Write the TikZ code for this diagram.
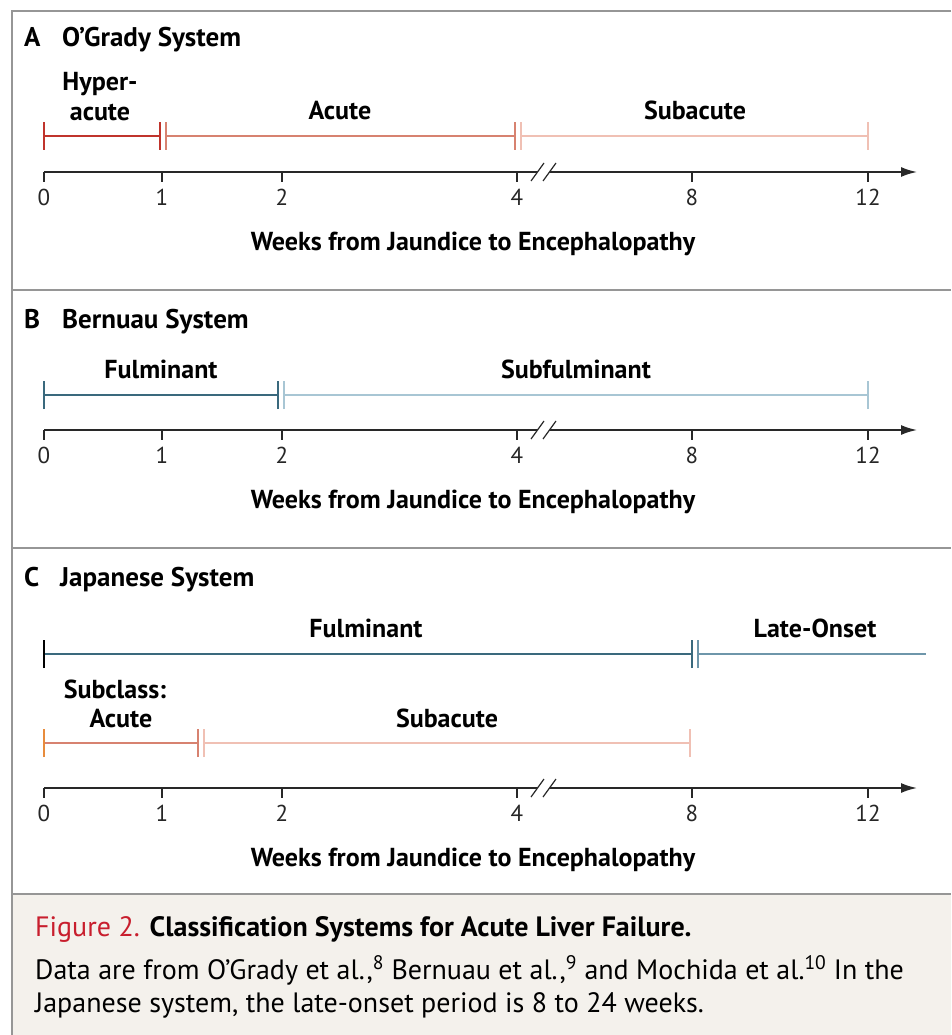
\documentclass[tikz,border=0pt]{standalone}
\usepackage{fontspec}
\setmainfont{PT Sans}
\usetikzlibrary{arrows.meta}
\definecolor{framegray}{RGB}{150,150,150}
\definecolor{capbg}{RGB}{244,241,236}
\definecolor{nejmred}{RGB}{200,30,45}
\definecolor{redA}{RGB}{192,52,44}
\definecolor{redB}{RGB}{215,130,112}
\definecolor{redC}{RGB}{240,192,180}
\definecolor{tealA}{RGB}{58,105,125}
\definecolor{tealB}{RGB}{168,198,212}
\definecolor{tealC}{RGB}{110,150,170}
\definecolor{orangeA}{RGB}{232,140,60}
\definecolor{axgray}{RGB}{40,40,40}
\tikzset{
  frameline/.style={draw=framegray,line width=2pt},
  bar/.style={line width=2.6pt},
  endtick/.style={line width=2.6pt},
  axisline/.style={draw=axgray,line width=1.8pt,-{Latex[length=16pt,width=10pt]}},
  axtick/.style={draw=axgray,line width=2pt},
  ticklab/.style={anchor=base,font=\fontsize{23}{26}\selectfont,text=black!85,inner sep=0pt},
  lab/.style={anchor=base,font=\fontsize{26}{30}\selectfont\bfseries,inner sep=0pt},
  title/.style={anchor=base west,font=\fontsize{27}{31}\selectfont\bfseries,inner sep=0pt},
  captext/.style={anchor=base west,inner sep=0pt,font=\fontsize{28}{32}\selectfont},
}
\newcommand\drawaxis[2]{%
  \coordinate (#1s) at (44,#2);
  \coordinate (#1e) at (917,#2);
  \draw[axisline] (#1s) -- (#1e);
  \foreach \xx/\tt in {44/0,162/1,282/2,517/4,692/8,868/12}{
    \draw[axtick] (\xx,#2) -- (\xx,#2+10);
    \node[ticklab] at (\xx,#2+33) {\tt};
  }
  \fill[white] (531,#2+9) -- (543,#2+9) -- (556,#2-9) -- (544,#2-9) -- cycle;
  \draw[axgray,line width=1.2pt] (531,#2+9) -- (544,#2-9);
  \draw[axgray,line width=1.2pt] (543,#2+9) -- (556,#2-9);
  \node[lab] at (473,#2+78) {Weeks from Jaundice to Encephalopathy};
}
\begin{document}
\begin{tikzpicture}[x=1pt,y=-1pt]
\useasboundingbox (0,0) rectangle (951,1035);
\fill[capbg] (12,894) rectangle (951,1035);
\draw[frameline] (951,11) -- (12,11) -- (12,1035);
\draw[frameline] (12,290) -- (951,290);
\draw[frameline] (12,548) -- (951,548);
\draw[frameline] (12,894) -- (951,894);

% ---------- Panel A
\node[title] (lA) at (24,47) {A};
\node[title] (tA) at (62,47) {O’Grady System};
\coordinate (a0) at (44,136);
\coordinate (a1) at (160,136);
\coordinate (a1b) at (166,136);
\coordinate (a4) at (515,136);
\coordinate (a4b) at (521,136);
\coordinate (a12) at (868,136);
\draw[bar,redA] (a0) -- (a1);
\draw[bar,redB] (a1b) -- (a4);
\draw[bar,redC] (a4b) -- (a12);
\draw[endtick,redA] ([yshift=-14pt]a0) -- ([yshift=14pt]a0);
\draw[endtick,redA] ([yshift=-14pt]a1) -- ([yshift=14pt]a1);
\draw[endtick,redB] ([yshift=-14pt]a1b) -- ([yshift=14pt]a1b);
\draw[endtick,redB] ([yshift=-14pt]a4) -- ([yshift=14pt]a4);
\draw[endtick,redC] ([yshift=-14pt]a4b) -- ([yshift=14pt]a4b);
\draw[endtick,redC] ([yshift=-14pt]a12) -- ([yshift=14pt]a12);
\node[lab] (hyp1) at (100,91) {Hyper-};
\node[lab] (hyp2) at (100,121) {acute};
\node[lab] (acA) at (340,120) {Acute};
\node[lab] (subA) at (695,120) {Subacute};
\drawaxis{axA}{172}

% ---------- Panel B
\node[title] (lB) at (24,328) {B};
\node[title] (tB) at (62,328) {Bernuau System};
\coordinate (b0) at (44,395);
\coordinate (b2) at (278,395);
\coordinate (b2b) at (284,395);
\coordinate (b12) at (868,395);
\draw[bar,tealA] (b0) -- (b2);
\draw[bar,tealB] (b2b) -- (b12);
\draw[endtick,tealA] ([yshift=-14pt]b0) -- ([yshift=14pt]b0);
\draw[endtick,tealA] ([yshift=-14pt]b2) -- ([yshift=14pt]b2);
\draw[endtick,tealB] ([yshift=-14pt]b2b) -- ([yshift=14pt]b2b);
\draw[endtick,tealB] ([yshift=-14pt]b12) -- ([yshift=14pt]b12);
\node[lab] (fulB) at (161,378) {Fulminant};
\node[lab] (subfB) at (576,378) {Subfulminant};
\drawaxis{axB}{430}

% ---------- Panel C
\node[title] (lC) at (24,586) {C};
\node[title] (tC) at (60,586) {Japanese System};
\coordinate (c0) at (44,654);
\coordinate (c8) at (692,654);
\coordinate (c8b) at (698,654);
\coordinate (cend) at (926,654);
\draw[bar,tealA] (c0) -- (c8);
\draw[bar,tealC] (c8b) -- (cend);
\draw[endtick,black] ([yshift=-14pt]c0) -- ([yshift=14pt]c0);
\draw[endtick,tealA] ([yshift=-14pt]c8) -- ([yshift=14pt]c8);
\draw[endtick,tealC] ([yshift=-14pt]c8b) -- ([yshift=14pt]c8b);
\node[lab] (fulC) at (366,637) {Fulminant};
\node[lab] (lateC) at (815,637) {Late-Onset};

\coordinate (d0) at (44,743);
\coordinate (d1) at (198,743);
\coordinate (d1b) at (204,743);
\coordinate (d8) at (690,743);
\draw[bar,redB] (d0) -- (d1);
\draw[bar,redC] (d1b) -- (d8);
\draw[endtick,orangeA] ([yshift=-14pt]d0) -- ([yshift=14pt]d0);
\draw[endtick,redB] ([yshift=-14pt]d1) -- ([yshift=14pt]d1);
\draw[endtick,redC] ([yshift=-14pt]d1b) -- ([yshift=14pt]d1b);
\draw[endtick,redC] ([yshift=-14pt]d8) -- ([yshift=14pt]d8);
\node[lab] (subcl) at (115,698) {Subclass:};
\node[lab] (acC) at (121,727) {Acute};
\node[lab] (subC) at (447,727) {Subacute};
\drawaxis{axC}{788}

% ---------- Caption
\node[captext] (cap1) at (35,936)
  {\textcolor{nejmred}{Figure 2.} \textbf{Classification Systems for Acute Liver Failure.}};
\node[captext] (cap2) at (35,979)
  {Data are from O’Grady et al.,\textsuperscript{8} Bernuau et al.,\textsuperscript{9} and Mochida et al.\textsuperscript{10} In the};
\node[captext] (cap3) at (35,1012)
  {Japanese system, the late-onset period is 8 to 24 weeks.};
\end{tikzpicture}
\end{document}
